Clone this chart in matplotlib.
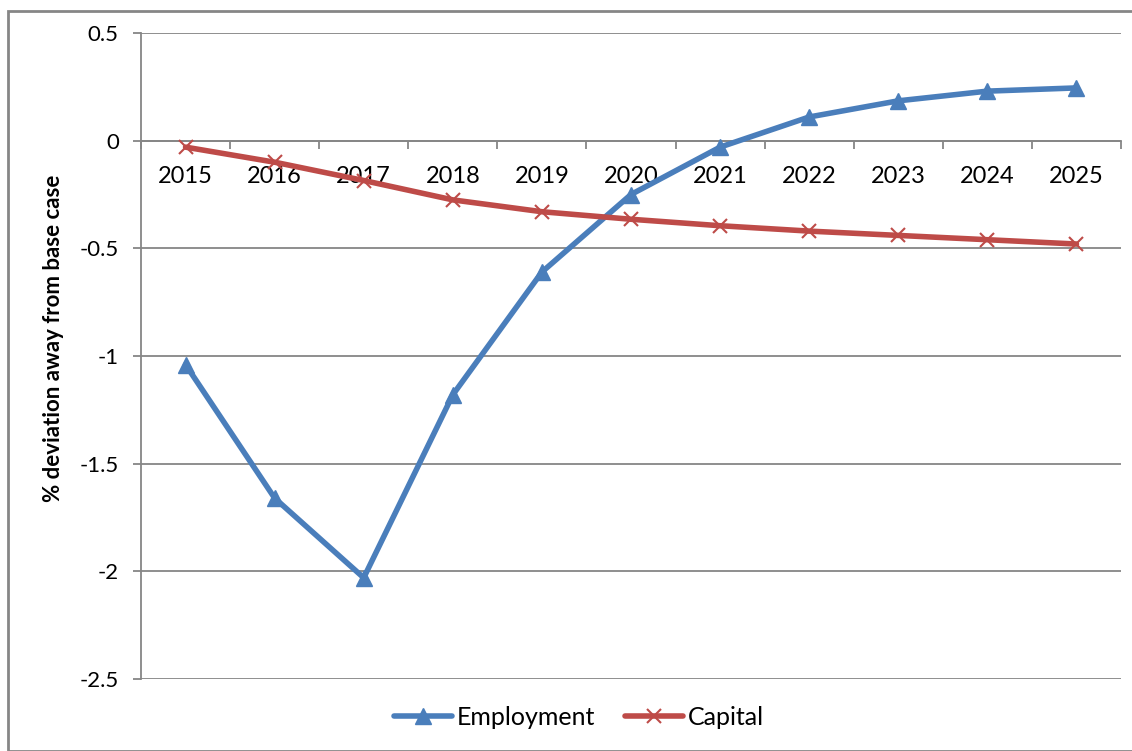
import numpy as np
import matplotlib.pyplot as plt
from matplotlib.patches import Rectangle

years = ['2015', '2016', '2017', '2018', '2019', '2020', '2021', '2022', '2023', '2024', '2025']
employment = [-1.04, -1.66, -2.03, -1.18, -0.61, -0.25, -0.03, 0.11, 0.185, 0.23, 0.245]
capital = [-0.03, -0.10, -0.185, -0.275, -0.33, -0.365, -0.395, -0.42, -0.44, -0.46, -0.48]
yticks = [0.5, 0, -0.5, -1, -1.5, -2, -2.5]

plt.rcParams['font.family'] = ['Lato', 'DejaVu Sans']

grey = '#868686'
blue = '#4a7ebb'
red = '#be4b48'

fig = plt.figure(figsize=(11.32, 7.51), dpi=100)
ax = fig.add_axes([141 / 1132, 1 - 679 / 751, (1121 - 141) / 1132, (679 - 33) / 751])

# outer chart border
fig.patches.append(Rectangle((8 / 1132, 0), 1.0, 1 - 11 / 751, transform=fig.transFigure,
                             fill=False, edgecolor=grey, linewidth=2.0))

x = np.arange(len(years))
ax.plot(x, employment, color=blue, linewidth=4, marker='^', markersize=11,
        label='Employment', solid_capstyle='round', zorder=3)
ax.plot(x, capital, color=red, linewidth=4, marker='x', markersize=10,
        markeredgewidth=1.5, label='Capital', solid_capstyle='round', zorder=3)

ax.set_xlim(-0.5, len(years) - 0.5)
ax.set_ylim(-2.5, 0.5)

ax.set_yticks(yticks)
ax.set_yticklabels(['0.5', '0', '-0.5', '-1', '-1.5', '-2', '-2.5'])
ax.yaxis.grid(True, color=grey, linewidth=1.3)
ax.set_axisbelow(True)

ax.spines['top'].set_visible(False)
ax.spines['right'].set_visible(False)
ax.spines['left'].set_color(grey)
ax.spines['left'].set_linewidth(1.3)
ax.spines['bottom'].set_position(('data', 0))
ax.spines['bottom'].set_color(grey)
ax.spines['bottom'].set_linewidth(1.3)

ax.set_xticks(x)
ax.set_xticklabels(years)
ax.set_xticks(np.arange(len(years) + 1) - 0.5, minor=True)
ax.tick_params(axis='x', which='major', length=0, pad=18, labelsize=17)
ax.tick_params(axis='x', which='minor', length=6, direction='out', color=grey, width=1.3)
ax.tick_params(axis='y', length=6, color=grey, width=1.3, labelsize=16, pad=10)

ax.set_ylabel('% deviation away from base case', fontsize=16, fontweight='bold')
ax.yaxis.set_label_coords(-0.079, 0.528)

ax.legend(loc='center', bbox_to_anchor=(0.447, -0.059), ncol=2, frameon=False,
          fontsize=18, handlelength=2.3, handletextpad=0.2, columnspacing=1.2)

fig.savefig('out.png', dpi=100)
